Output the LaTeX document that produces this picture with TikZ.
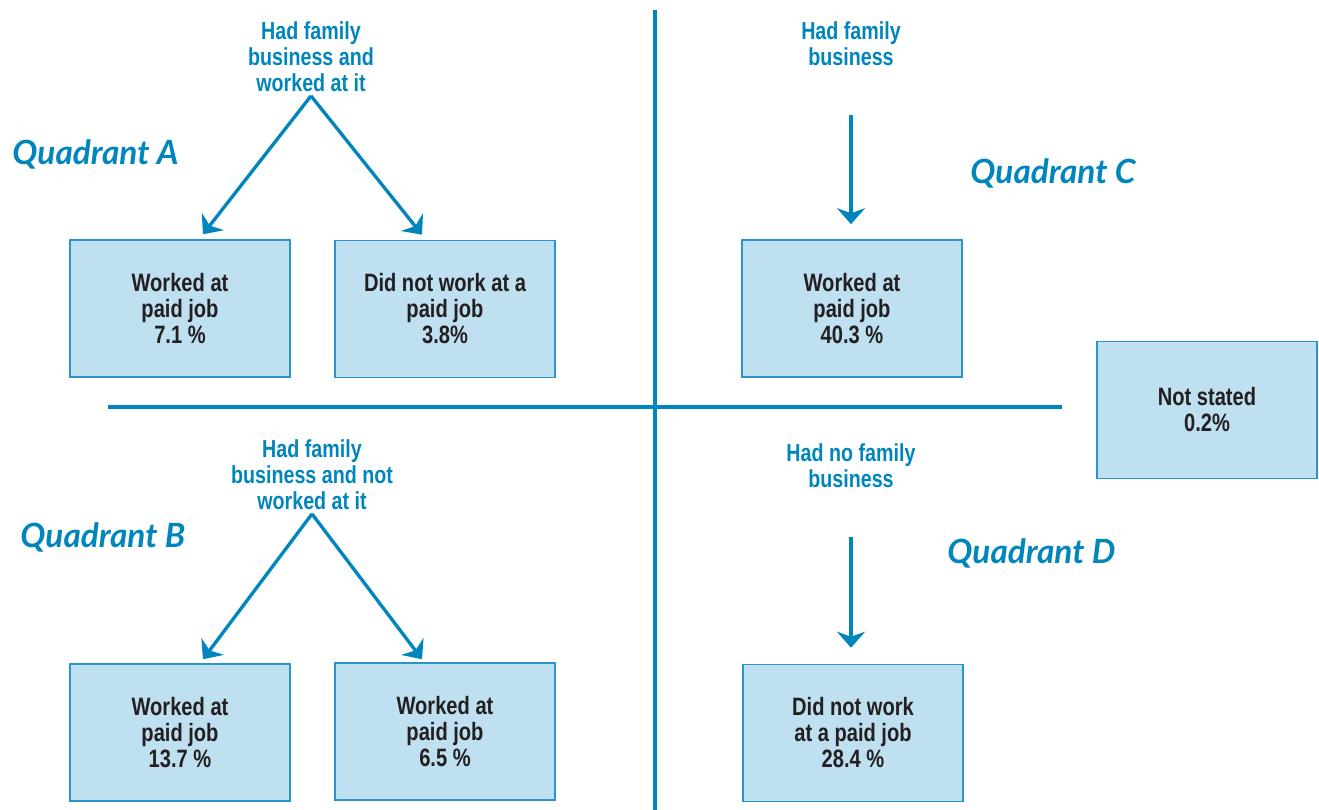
\documentclass[tikz,border=0pt]{standalone}
\usepackage{fontspec}
\usepackage{xcolor}
\usepackage{tikz}
\usetikzlibrary{calc, arrows.meta, positioning}

\newfontfamily\condfont{Liberation Sans}[FakeStretch=0.8]
\newfontfamily\quadfont{Lato}

\definecolor{lineblue}{RGB}{0,134,188}
\definecolor{boxfill}{RGB}{190,224,240}
\definecolor{boxedge}{RGB}{40,150,200}
\definecolor{textdark}{RGB}{35,31,32}

\tikzset{
    databox/.style={draw=boxedge, fill=boxfill, line width=0.9pt, minimum width=4.4cm, minimum height=2.74cm,
        align=center, text=textdark, font=\condfont\bfseries\fontsize{14.3}{14.8}\selectfont},
    headtext/.style={align=center, text=lineblue, inner sep=2pt, font=\condfont\bfseries\fontsize{14}{14.8}\selectfont},
    quadtext/.style={anchor=base west, inner sep=0pt, text=lineblue, font=\quadfont\bfseries\itshape\fontsize{19}{22}\selectfont},
    divider/.style={draw=lineblue, line width=2.8pt},
    arr/.style={-{Stealth[length=0.32cm, width=0.56cm, inset=0.1cm]}, draw=lineblue, line width=1.9pt}
}

\begin{document}
\begin{tikzpicture}[x=0.02cm, y=-0.02cm]
    \useasboundingbox (0,0) rectangle (1319,810);

    % Các đường chia góc phần tư
    \draw[divider] (655,10) -- (655,810);
    \draw[divider] (108,407) -- (1062,407);

    % Quadrant A
    \node[headtext] (hadA) at (311,57) {Had family\\business and\\worked at it};
    \node[quadtext] (qA) at (12,165) {Quadrant A};
    \node[databox] (a1) at (180,308.5) {Worked at\\paid job\\7.1 \%};
    \node[databox] (a2) at (445,309) {Did not work at a\\paid job\\3.8\%};
    \draw[arr] (hadA.south) -- ($(a1.north)+(23,-5)$);
    \draw[arr] (hadA.south) -- ($(a2.north)+(-23,-5)$);

    % Quadrant B
    \node[headtext] (hadB) at (312,475) {Had family\\business and not\\worked at it};
    \node[quadtext] (qB) at (20,548) {Quadrant B};
    \node[databox] (b1) at (180,732.5) {Worked at\\paid job\\13.7 \%};
    \node[databox] (b2) at (445,731.5) {Worked at\\paid job\\6.5 \%};
    \draw[arr] (hadB.south) -- ($(b1.north)+(23,-4)$);
    \draw[arr] (hadB.south) -- ($(b2.north)+(-23,-3)$);

    % Quadrant C
    \node[headtext] (hadC) at (851,44) {Had family\\business};
    \node[quadtext] (qC) at (970,184) {Quadrant C};
    \node[databox] (c1) at (852,308.5) {Worked at\\paid job\\40.3 \%};
    \draw[arr, shorten <=0.9cm, shorten >=0.3cm] (hadC) -- (hadC |- c1.north);

    % Quadrant D
    \node[headtext] (hadD) at (851,466) {Had no family\\business};
    \node[quadtext] (qD) at (947,564) {Quadrant D};
    \node[databox] (d1) at (853,733) {Did not work\\at a paid job\\28.4 \%};
    \draw[arr, shorten <=0.9cm, shorten >=0.32cm] (hadD) -- (hadD |- d1.north);

    % Ô không trả lời
    \node[databox] (ns) at (1207,410) {Not stated\\0.2\%};
\end{tikzpicture}
\end{document}
